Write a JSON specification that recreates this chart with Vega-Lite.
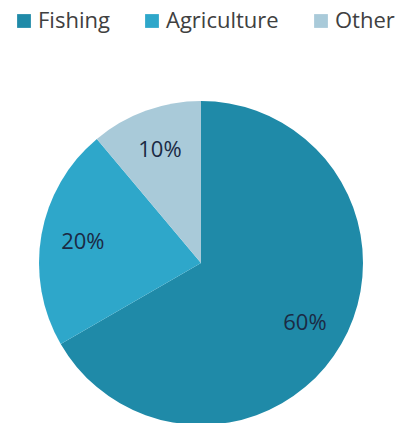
{
  "$schema": "https://vega.github.io/schema/vega-lite/v6.json",
  "autosize": "none",
  "width": 324,
  "height": 324,
  "padding": {"left": 39, "top": 101, "right": 36, "bottom": 0},
  "background": "white",
  "data": {"values": [
    {"sector": "Fishing", "share": 60, "label": "60%"},
    {"sector": "Agriculture", "share": 20, "label": "20%"},
    {"sector": "Other", "share": 10, "label": "10%"}
  ]},
  "encoding": {
    "theta": {"field": "share", "type": "quantitative", "stack": true},
    "order": {"field": "share", "type": "quantitative", "sort": "descending"}
  },
  "layer": [
    {
      "mark": {"type": "arc", "outerRadius": 162, "stroke": null},
      "encoding": {
        "color": {
          "field": "sector",
          "type": "nominal",
          "sort": ["Fishing", "Agriculture", "Other"],
          "scale": {"domain": ["Fishing", "Agriculture", "Other"], "range": ["#1f8aa8", "#2ea7ca", "#a9cad9"]},
          "legend": {
            "title": null,
            "orient": "none",
            "direction": "horizontal",
            "legendX": -26,
            "legendY": -91,
            "symbolType": "square",
            "symbolSize": 190,
            "symbolStrokeWidth": 0,
            "symbolOpacity": 1,
            "labelFont": "Open Sans",
            "labelFontSize": 22,
            "labelColor": "#404040",
            "labelOffset": 3,
            "columnPadding": 31
          }
        }
      }
    },
    {
      "mark": {"type": "text", "radius": 120, "font": "Open Sans", "fontSize": 22, "color": "#1b2a44"},
      "encoding": {
        "text": {"field": "label", "type": "nominal"}
      }
    }
  ]
}
